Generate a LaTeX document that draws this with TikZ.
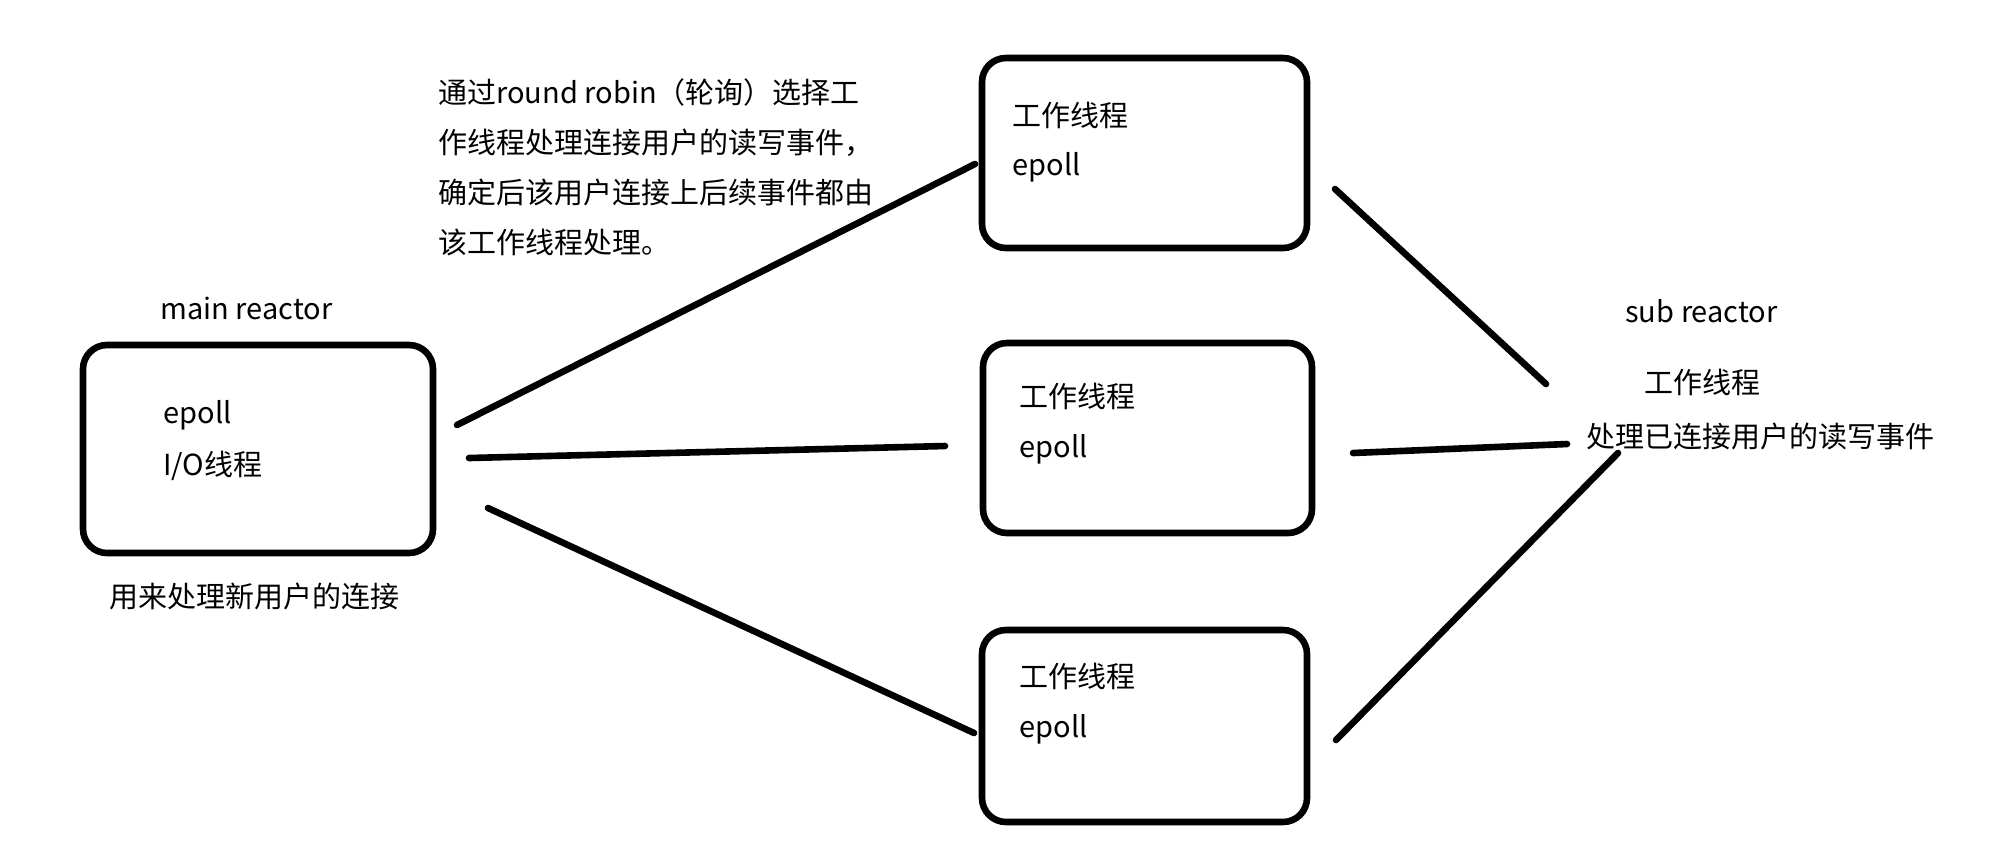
\documentclass[tikz,border=0pt]{standalone}
\usepackage{fontspec}
\setmainfont{Noto Sans CJK SC}
\usepackage{tikz}
\usepackage{xcolor}
\usetikzlibrary{positioning}

\begin{document}
\begin{tikzpicture}
[
x=0.5pt, y=-0.5pt,
box-a/.style={rectangle, draw, line width=3.3pt, rounded corners=12pt},
text-a/.style={anchor=base west, inner sep=0pt, font=\fontsize{14.5}{25}\selectfont},
link-a/.style={line width=3.3pt, line cap=round}
]
\useasboundingbox (0,0) rectangle (2000,859);

% main reactor
\node (main)       [box-a, minimum width=175pt, minimum height=104pt] at (258,449) {};
\node (main-lb)    [text-a] at (160,319) {main reactor};
\node (main-ep)    [text-a] at (163,423) {epoll};
\node (main-io)    [text-a] at (163,475) {I/O线程};
\node (main-note)  [text-a] at (109,607) {用来处理新用户的连接};

% round robin note (base = last line)
\node (rr-note)    [text-a, align=left] at (438,253) {通过round robin（轮询）选择工\\作线程处理连接用户的读写事件，\\确定后该用户连接上后续事件都由\\该工作线程处理。};

% worker threads
\node (work-1)     [box-a, minimum width=162.5pt, minimum height=95pt] at (1144.5,153) {};
\node (work-1-id)  [text-a] at (1012,126) {工作线程};
\node (work-1-ep)  [text-a] at (1012,175) {epoll};
\node (work-2)     [box-a, minimum width=164.5pt, minimum height=95pt] at (1147.5,438) {};
\node (work-2-id)  [text-a] at (1019,407) {工作线程};
\node (work-2-ep)  [text-a] at (1019,457) {epoll};
\node (work-3)     [box-a, minimum width=162.5pt, minimum height=96pt] at (1144.5,726) {};
\node (work-3-id)  [text-a] at (1019,687) {工作线程};
\node (work-3-ep)  [text-a] at (1019,737) {epoll};

% sub reactor
\node (sub-lb)     [text-a] at (1625,322) {sub reactor};
\node (sub-id)     [text-a] at (1644,393) {工作线程};
\node (sub-note)   [text-a] at (1586,447) {处理已连接用户的读写事件};

% line ends
\coordinate (m-1) at (457,425);
\coordinate (m-2) at (469,458);
\coordinate (m-3) at (488,508);
\coordinate (w-1-in)  at (975,164);
\coordinate (w-2-in)  at (945,446);
\coordinate (w-3-in)  at (974,733);
\coordinate (w-1-out) at (1335,189);
\coordinate (w-2-out) at (1353,453);
\coordinate (w-3-out) at (1336,740);
\coordinate (s-1) at (1546,384);
\coordinate (s-2) at (1567,444);
\coordinate (s-3) at (1618,453);

\draw [link-a] (m-1) -- (w-1-in);
\draw [link-a] (m-2) -- (w-2-in);
\draw [link-a] (m-3) -- (w-3-in);
\draw [link-a] (w-1-out) -- (s-1);
\draw [link-a] (w-2-out) -- (s-2);
\draw [link-a] (w-3-out) -- (s-3);

\end{tikzpicture}
\end{document}
